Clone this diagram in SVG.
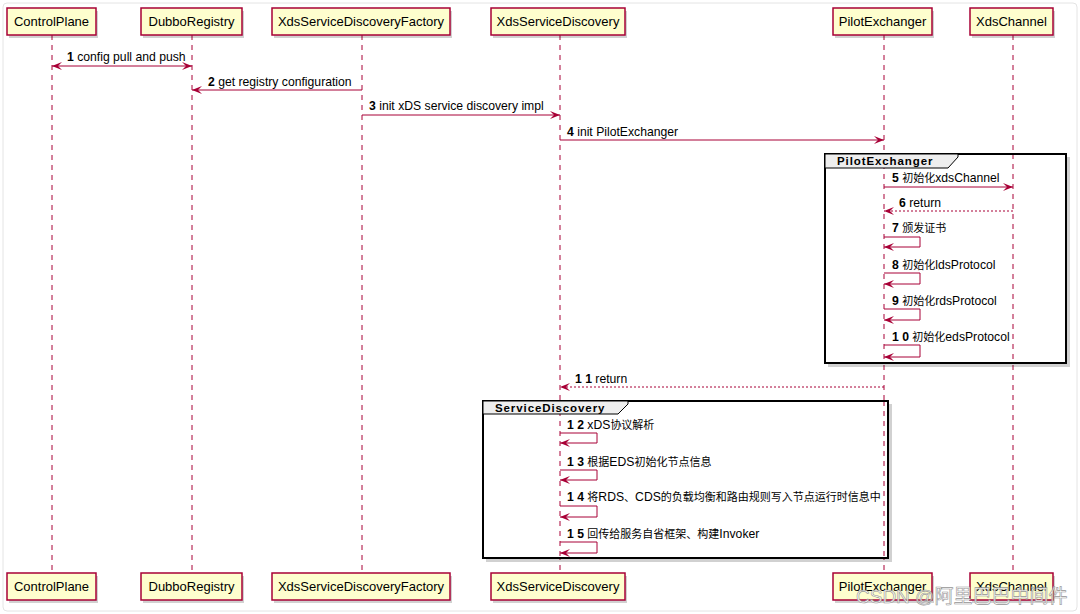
<svg xmlns="http://www.w3.org/2000/svg" width="1080" height="614" viewBox="0 0 1080 614">
<style>
.bg{fill:#ffffff;stroke:#e4e4e4;stroke-width:1}
.pbox{fill:#FEFECE;stroke:#A80036;stroke-width:1.5}
.shadow{fill:#000;opacity:0.18}
.ptxt{font-family:"Liberation Sans",Arial,sans-serif;font-size:13px;fill:#000;text-anchor:middle}
.life{stroke:#A80036;stroke-width:1;stroke-dasharray:5,5;fill:none}
.msg{stroke:#A80036;stroke-width:1;fill:none}
.ret{stroke:#A80036;stroke-width:1;fill:none;stroke-dasharray:2,2}
.lbl{font-family:"Liberation Sans","Noto Sans CJK SC",Arial,sans-serif;font-size:12.2px;fill:#000}
.num{font-weight:bold}
.c{font-size:11px}
.frame{fill:none;stroke:#000;stroke-width:2}
.tab{fill:#EEEEEE;stroke:#000;stroke-width:1}
.ftxt{font-family:"Liberation Sans",Arial,sans-serif;font-size:11.5px;font-weight:bold;fill:#000;letter-spacing:0.9px}
.wm{font-family:"Liberation Sans","Noto Sans CJK SC",sans-serif;font-size:19px;fill:#ffffff;stroke:#8a8a8a;stroke-width:0.6;opacity:0.9}
</style>
<defs>
<marker id="ah" markerWidth="10" markerHeight="8" refX="10" refY="4" orient="auto" markerUnits="userSpaceOnUse">
<path d="M0,0 L10,4 L0,8 L4,4 Z" fill="#A80036"/>
</marker>
<marker id="ahs" markerWidth="10" markerHeight="8" refX="0" refY="4" orient="auto" markerUnits="userSpaceOnUse">
<path d="M10,0 L0,4 L10,8 L6,4 Z" fill="#A80036"/>
</marker>
</defs>
<rect class="bg" x="3" y="3" width="1074" height="608" rx="4"/>

<g id="lifelines">
<line class="life" x1="52" y1="35" x2="52" y2="573"/>
<line class="life" x1="192" y1="35" x2="192" y2="573"/>
<line class="life" x1="362" y1="35" x2="362" y2="573"/>
<line class="life" x1="560" y1="35" x2="560" y2="573"/>
<line class="life" x1="884" y1="35" x2="884" y2="573"/>
<line class="life" x1="1013" y1="35" x2="1013" y2="573"/>
</g>

<g id="group-PilotExchanger">
<rect class="shadow" x="828" y="157" width="242" height="210"/>
<rect x="825" y="154" width="241" height="209" fill="#fff" stroke="none"/>
<line class="life" x1="884" y1="154" x2="884" y2="363"/>
<line class="life" x1="1013" y1="154" x2="1013" y2="363"/>
<rect class="frame" x="825" y="154" width="241" height="209"/>
<path class="tab" d="M825,154 L958,154 L958,157 L948,168 L825,168 Z"/>
<text class="ftxt" x="837" y="165">PilotExchanger</text>
</g>

<g id="group-ServiceDiscovery">
<rect class="shadow" x="486" y="404" width="406" height="158"/>
<rect x="483" y="401" width="405" height="157" fill="#fff" stroke="none"/>
<line class="life" x1="560" y1="401" x2="560" y2="558"/>
<line class="life" x1="884" y1="401" x2="884" y2="558"/>
<rect class="frame" x="483" y="401" width="405" height="157"/>
<path class="tab" d="M483,401 L628,401 L628,404 L618,414 L483,414 Z"/>
<text class="ftxt" x="495" y="412">ServiceDiscovery</text>
</g>

<g id="connectors">
<line class="msg" x1="52" y1="66" x2="192" y2="66" marker-start="url(#ahs)" marker-end="url(#ah)"/>
<text class="lbl" x="67" y="61"><tspan class="num">1</tspan> config pull and push</text>

<line class="msg" x1="362" y1="90" x2="192" y2="90" marker-end="url(#ah)"/>
<text class="lbl" x="208" y="86"><tspan class="num">2</tspan> get registry configuration</text>

<line class="msg" x1="362" y1="115" x2="560" y2="115" marker-end="url(#ah)"/>
<text class="lbl" x="369" y="110"><tspan class="num">3</tspan> init xDS service discovery impl</text>

<line class="msg" x1="560" y1="140" x2="884" y2="140" marker-end="url(#ah)"/>
<text class="lbl" x="567" y="136"><tspan class="num">4</tspan> init PilotExchanger</text>

<line class="msg" x1="884" y1="187" x2="1013" y2="187" marker-end="url(#ah)"/>
<text class="lbl" x="892" y="182"><tspan class="num">5</tspan> <tspan class="c">初始化</tspan>xdsChannel</text>

<line class="ret" x1="1013" y1="211" x2="884" y2="211" marker-end="url(#ah)"/>
<text class="lbl" x="899" y="207"><tspan class="num">6</tspan> return</text>

<path class="msg" d="M884,237 L920,237 L920,247 L884,247" marker-end="url(#ah)"/>
<text class="lbl" x="892" y="232"><tspan class="num">7</tspan> <tspan class="c">颁发证书</tspan></text>

<path class="msg" d="M884,273 L920,273 L920,284 L884,284" marker-end="url(#ah)"/>
<text class="lbl" x="892" y="269"><tspan class="num">8</tspan> <tspan class="c">初始化</tspan>ldsProtocol</text>

<path class="msg" d="M884,309 L920,309 L920,320 L884,320" marker-end="url(#ah)"/>
<text class="lbl" x="892" y="305"><tspan class="num">9</tspan> <tspan class="c">初始化</tspan>rdsProtocol</text>

<path class="msg" d="M884,345 L920,345 L920,357 L884,357" marker-end="url(#ah)"/>
<text class="lbl" x="892" y="341"><tspan class="num">1 0</tspan> <tspan class="c">初始化</tspan>edsProtocol</text>

<line class="ret" x1="884" y1="387" x2="560" y2="387" marker-end="url(#ah)"/>
<text class="lbl" x="575" y="383"><tspan class="num">1 1</tspan> return</text>

<path class="msg" d="M560,433 L597,433 L597,443 L560,443" marker-end="url(#ah)"/>
<text class="lbl" x="567" y="429"><tspan class="num">1 2</tspan> xDS<tspan class="c">协议解析</tspan></text>

<path class="msg" d="M560,470 L597,470 L597,480 L560,480" marker-end="url(#ah)"/>
<text class="lbl" x="567" y="466"><tspan class="num">1 3</tspan> <tspan class="c">根据</tspan>EDS<tspan class="c">初始化节点信息</tspan></text>

<path class="msg" d="M560,506 L597,506 L597,517 L560,517" marker-end="url(#ah)"/>
<text class="lbl" x="567" y="501"><tspan class="num">1 4</tspan> <tspan class="c">将</tspan>RDS<tspan class="c">、</tspan>CDS<tspan class="c">的负载均衡和路由规则写入节点运行时信息中</tspan></text>

<path class="msg" d="M560,542 L597,542 L597,553 L560,553" marker-end="url(#ah)"/>
<text class="lbl" x="567" y="538"><tspan class="num">1 5</tspan> <tspan class="c">回传给服务自省框架、构建</tspan>Invoker</text>
</g>

<g id="ControlPlane">
<rect class="shadow" x="9" y="11" width="89" height="27"/>
<rect class="pbox" x="7" y="8" width="89" height="27"/>
<text class="ptxt" x="51.5" y="26">ControlPlane</text>
<rect class="shadow" x="9" y="576" width="89" height="27"/>
<rect class="pbox" x="7" y="573" width="89" height="27"/>
<text class="ptxt" x="51.5" y="591">ControlPlane</text>
</g>

<g id="DubboRegistry">
<rect class="shadow" x="143" y="11" width="101" height="27"/>
<rect class="pbox" x="141" y="8" width="101" height="27"/>
<text class="ptxt" x="191.5" y="26">DubboRegistry</text>
<rect class="shadow" x="143" y="576" width="101" height="27"/>
<rect class="pbox" x="141" y="573" width="101" height="27"/>
<text class="ptxt" x="191.5" y="591">DubboRegistry</text>
</g>

<g id="XdsServiceDiscoveryFactory">
<rect class="shadow" x="274" y="11" width="178" height="27"/>
<rect class="pbox" x="272" y="8" width="178" height="27"/>
<text class="ptxt" x="361" y="26">XdsServiceDiscoveryFactory</text>
<rect class="shadow" x="274" y="576" width="178" height="27"/>
<rect class="pbox" x="272" y="573" width="178" height="27"/>
<text class="ptxt" x="361" y="591">XdsServiceDiscoveryFactory</text>
</g>

<g id="XdsServiceDiscovery">
<rect class="shadow" x="493" y="11" width="134" height="27"/>
<rect class="pbox" x="491" y="8" width="134" height="27"/>
<text class="ptxt" x="558" y="26">XdsServiceDiscovery</text>
<rect class="shadow" x="493" y="576" width="134" height="27"/>
<rect class="pbox" x="491" y="573" width="134" height="27"/>
<text class="ptxt" x="558" y="591">XdsServiceDiscovery</text>
</g>

<g id="PilotExchanger">
<rect class="shadow" x="835" y="11" width="99" height="27"/>
<rect class="pbox" x="833" y="8" width="99" height="27"/>
<text class="ptxt" x="882.5" y="26">PilotExchanger</text>
<rect class="shadow" x="835" y="576" width="99" height="27"/>
<rect class="pbox" x="833" y="573" width="99" height="27"/>
<text class="ptxt" x="882.5" y="591">PilotExchanger</text>
</g>

<g id="XdsChannel">
<rect class="shadow" x="972" y="11" width="83" height="27"/>
<rect class="pbox" x="970" y="8" width="83" height="27"/>
<text class="ptxt" x="1011.5" y="26">XdsChannel</text>
<rect class="shadow" x="972" y="576" width="83" height="27"/>
<rect class="pbox" x="970" y="573" width="83" height="27"/>
<text class="ptxt" x="1011.5" y="591">XdsChannel</text>
</g>

<text class="wm" x="856" y="603">CSDN @阿里巴巴中间件</text>
</svg>
